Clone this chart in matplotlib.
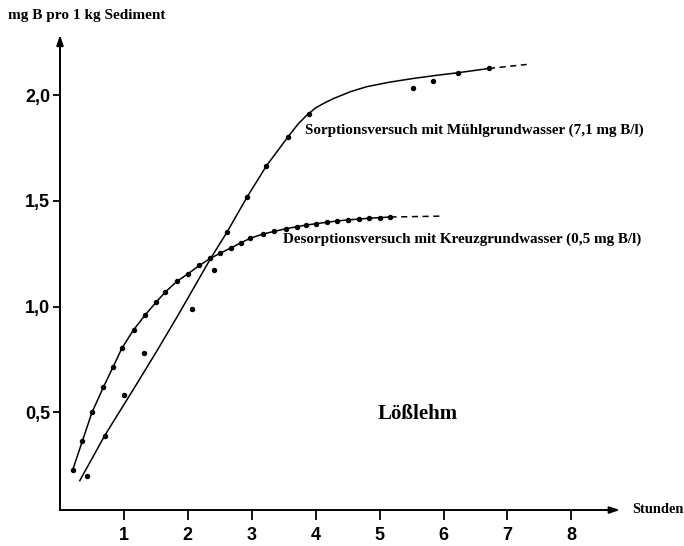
import numpy as np
import matplotlib.pyplot as plt

# Desorption (Kreuzgrundwasser) - measured points, curve drawn through them
des_x = [0.2, 0.35, 0.5, 0.68, 0.83, 0.97, 1.15, 1.33, 1.5, 1.65, 1.83, 2.0, 2.18,
         2.35, 2.5, 2.67, 2.83, 2.98, 3.17, 3.35, 3.53, 3.7, 3.85, 4.0, 4.17, 4.33,
         4.5, 4.67, 4.83, 5.0, 5.17]
des_y = [0.23, 0.365, 0.5, 0.62, 0.715, 0.805, 0.89, 0.96, 1.02, 1.07, 1.12, 1.155,
         1.195, 1.228, 1.252, 1.277, 1.302, 1.324, 1.343, 1.356, 1.368, 1.378, 1.386,
         1.392, 1.399, 1.405, 1.41, 1.414, 1.418, 1.421, 1.424]
des_ext_x = [5.17, 5.95]
des_ext_y = [1.424, 1.428]

# Sorption (Mühlgrundwasser) - measured points
sor_x = [0.43, 0.70, 1.0, 1.32, 2.07, 2.41, 2.61, 2.93, 3.23, 3.56, 3.89, 5.53, 5.84, 6.23, 6.71]
sor_y = [0.2, 0.388, 0.583, 0.783, 0.987, 1.175, 1.351, 1.52, 1.666, 1.802, 1.91,
         2.035, 2.065, 2.105, 2.126]
# fitted curve
sor_fit_x = [0.31, 0.70, 1.17, 1.52, 1.83, 2.0, 2.13, 2.37, 2.61, 2.93, 3.23, 3.56,
             3.72, 3.86, 4.0, 4.15, 4.28, 4.55, 4.8, 5.15, 5.53, 5.9, 6.23, 6.71]
sor_fit_y = [0.178, 0.391, 0.62, 0.793, 0.951, 1.04, 1.109, 1.235, 1.351, 1.52, 1.666,
             1.80, 1.862, 1.905, 1.94, 1.965, 1.984, 2.017, 2.04, 2.061, 2.079, 2.094,
             2.106, 2.126]
sor_ext_x = [6.71, 7.3]
sor_ext_y = [2.126, 2.145]

xticks = [1, 2, 3, 4, 5, 6, 7, 8]
yticks = [0.5, 1.0, 1.5, 2.0]
ytick_labels = ["0,5", "1,0", "1,5", "2,0"]

fig = plt.figure(figsize=(6.84, 5.46), dpi=100)
ax = fig.add_axes([0.0877, 0.0659, 0.8187, 0.8703])
ax.set_xlim(0, 8.76)
ax.set_ylim(0.039, 2.285)

for s in ["top", "right", "left", "bottom"]:
    ax.spines[s].set_visible(False)

# axes with arrowheads
ax.annotate("", xy=(1.0, 0), xytext=(0, 0), xycoords="axes fraction",
            arrowprops=dict(arrowstyle="-|>,head_length=0.6,head_width=0.2", color="k", lw=1.4,
                            shrinkA=0, shrinkB=0))
ax.annotate("", xy=(0, 1.0), xytext=(0, 0), xycoords="axes fraction",
            arrowprops=dict(arrowstyle="-|>,head_length=0.6,head_width=0.2", color="k", lw=1.4,
                            shrinkA=0, shrinkB=0))

ax.set_xticks(xticks)
ax.set_xticklabels([str(t) for t in xticks])
ax.set_yticks(yticks)
ax.set_yticklabels(ytick_labels)
ax.tick_params(axis="x", direction="out", length=7, width=1.3, pad=5)
ax.tick_params(axis="y", direction="out", length=5, width=1.3, pad=2)
for lab in ax.get_xticklabels() + ax.get_yticklabels():
    lab.set_fontfamily("Liberation Sans")
    lab.set_fontweight("bold")
    lab.set_fontsize(13)

# desorption curve
ax.plot(des_x, des_y, color="k", lw=1.1, marker="o", ms=2.9)
ax.plot(des_ext_x, des_ext_y, color="k", lw=1.1, ls=(0, (4, 3)))

# sorption curve
ax.plot(sor_fit_x, sor_fit_y, color="k", lw=1.1)
ax.plot(sor_ext_x, sor_ext_y, color="k", lw=1.1, ls=(0, (4, 3)))
ax.plot(sor_x, sor_y, "o", color="k", ms=2.9)

serif = "Liberation Serif"
ax.text(3.83, 1.835, "Sorptionsversuch mit Mühlgrundwasser (7,1 mg B/l)",
        fontfamily=serif, fontweight="bold", fontsize=10.9, ha="left", va="center")
ax.text(3.49, 1.32, "Desorptionsversuch mit Kreuzgrundwasser (0,5 mg B/l)",
        fontfamily=serif, fontweight="bold", fontsize=10.9, ha="left", va="center")
ax.text(5.6, 0.495, "Lößlehm", fontfamily=serif, fontweight="bold", fontsize=15,
        ha="center", va="center")

fig.text(0.012, 0.972, "mg B pro 1 kg Sediment", fontfamily=serif, fontweight="bold",
         fontsize=11, ha="left", va="center")
fig.text(0.924, 0.066, "Stunden", fontfamily=serif, fontweight="bold",
         fontsize=10.4, ha="left", va="center")

fig.savefig("out.png", dpi=100, facecolor="white")
